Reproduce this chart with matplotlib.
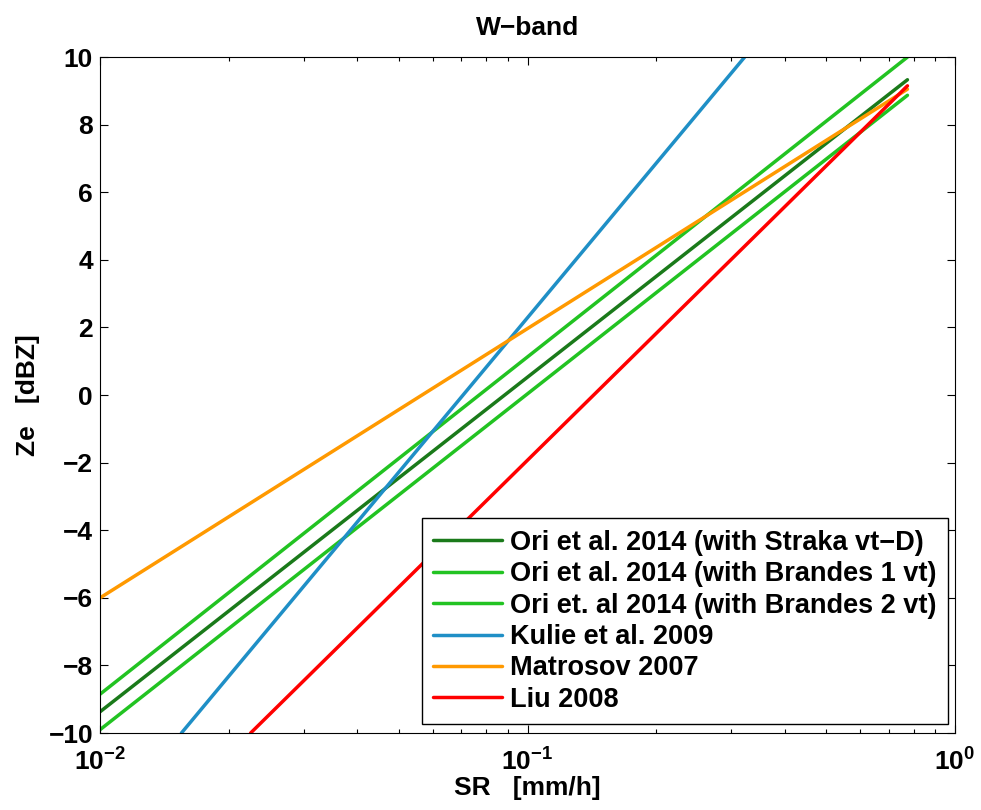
import numpy as np
import matplotlib
matplotlib.use("Agg")
import matplotlib.pyplot as plt

# ==============================
# DATOS
# ==============================
labels = [
    "Ori et al. 2014 (with Straka vt\u2212D)",
    "Ori et al. 2014 (with Brandes 1 vt)",
    "Ori et. al 2014 (with Brandes 2 vt)",
    "Kulie et al. 2009",
    "Matrosov 2007",
    "Liu 2008",
]
colors = ["#1a7a1a", "#22c322", "#22c322", "#1f8fc6", "#ff9900", "#ff0000"]

# extremos de cada recta (SR en mm/h, Ze en dBZ)
sr_start = [0.01, 0.01, 0.01, 0.0155, 0.01, 0.0225]
sr_end = [0.774, 0.774, 0.774, 0.322, 0.774, 0.774]
ze_start = [-9.37, -8.85, -9.9, -10.0, -6.0, -10.0]
ze_end = [9.33, 10.0, 8.87, 10.0, 9.05, 9.15]

# ==============================
# FIGURA
# ==============================
plt.rcParams["font.family"] = ["Liberation Sans", "DejaVu Sans"]
plt.rcParams["font.weight"] = "bold"
plt.rcParams["mathtext.fontset"] = "custom"
plt.rcParams["mathtext.bf"] = "Liberation Sans:bold"
plt.rcParams["mathtext.rm"] = "Liberation Sans:bold"

FS = 19

fig = plt.figure(figsize=(9.81, 8.10), dpi=100)
ax = fig.add_axes([0.102, 0.095, 0.8715, 0.8345])

for i in range(len(labels)):
    ax.plot([sr_start[i], sr_end[i]], [ze_start[i], ze_end[i]],
            color=colors[i], lw=2.5, label=labels[i], solid_capstyle="round")

ax.set_xscale("log")
ax.set_xlim(1e-2, 1e0)
ax.set_ylim(-10, 10)
ax.set_yticks(np.arange(-10, 11, 2))
ax.set_yticklabels([("\u2212%d" % -v) if v < 0 else "%d" % v for v in range(-10, 11, 2)])
ax.set_xticks([1e-2, 1e-1, 1e0])
ax.set_xticklabels([r"$\mathbf{10^{-2}}$", r"$\mathbf{10^{-1}}$", r"$\mathbf{10^{0}}$"])

ax.tick_params(which="both", direction="in", top=True, right=True, labelsize=FS, width=0.8)
ax.tick_params(which="major", length=6)
ax.tick_params(which="minor", length=3)
ax.tick_params(axis="x", pad=11)
ax.tick_params(axis="y", pad=5)
for s in ax.spines.values():
    s.set_linewidth(0.8)

ax.set_title("W\u2212band", fontsize=FS, fontweight="bold", pad=16)
ax.set_xlabel("SR   [mm/h]", fontsize=FS, fontweight="bold", labelpad=0)
ax.set_ylabel("Ze   [dBZ]", fontsize=FS, fontweight="bold", labelpad=6)

leg = ax.legend(loc="lower right", bbox_to_anchor=(0.992, 0.013), borderaxespad=0,
                fontsize=19.5, fancybox=False, edgecolor="black", framealpha=1,
                handlelength=2.55, labelspacing=0.2, borderpad=0.42, handletextpad=0.3)
leg.get_frame().set_linewidth(1.0)
for t in leg.get_texts():
    t.set_fontweight("bold")

fig.savefig("out.png", dpi=100)
